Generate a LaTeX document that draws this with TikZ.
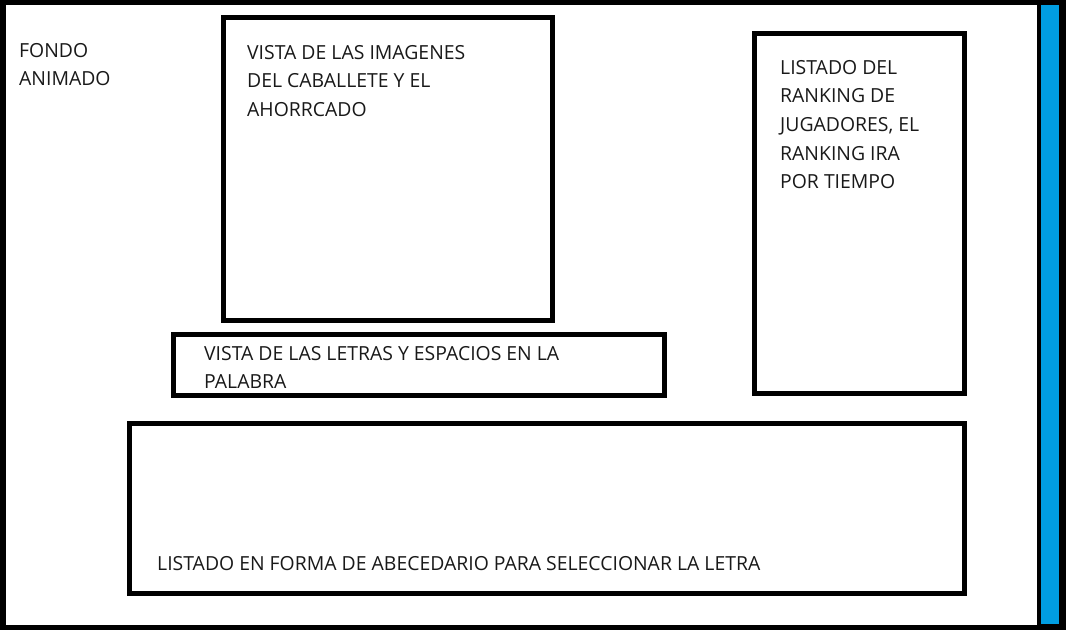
\documentclass[tikz,border=0pt]{standalone}
\usepackage{fontspec}
\setmainfont{Open Sans}
\definecolor{barblue}{RGB}{0,158,226}
\begin{document}
\begin{tikzpicture}[x=1pt,y=-1pt,
  box/.style={draw=black,line width=5pt},
  lbl/.style={anchor=north west,inner sep=0pt,align=left,
    font=\fontsize{19.4}{28.6}\selectfont,text=black!90}]
\useasboundingbox (0,0) rectangle (1066,630);
\fill[black] (0,0) rectangle (1066,630);
\fill[white] (6,5) rectangle (1037,625);
\fill[barblue] (1041,5) rectangle (1059,624);
% boxes
\draw[box] (223.5,17.5) rectangle (552.5,320);
\draw[box] (754.5,33.5) rectangle (964.5,393);
\draw[box] (173.5,334.5) rectangle (664,395);
\draw[box] (129.5,423.5) rectangle (964.5,593);
% texts
\node[lbl] (fondo) at (19,43) {FONDO\\ANIMADO};
\node[lbl] (imagenes) at (247,45) {VISTA DE LAS IMAGENES\\DEL CABALLETE Y EL\\AHORRCADO};
\node[lbl] (ranking) at (780,60) {LISTADO DEL\\RANKING DE\\JUGADORES, EL\\RANKING IRA\\POR TIEMPO};
\node[lbl] (letras) at (204,346) {VISTA DE LAS LETRAS Y ESPACIOS EN LA\\PALABRA};
\node[lbl] (abc) at (157,556) {LISTADO EN FORMA DE ABECEDARIO PARA SELECCIONAR LA LETRA};
\end{tikzpicture}
\end{document}
